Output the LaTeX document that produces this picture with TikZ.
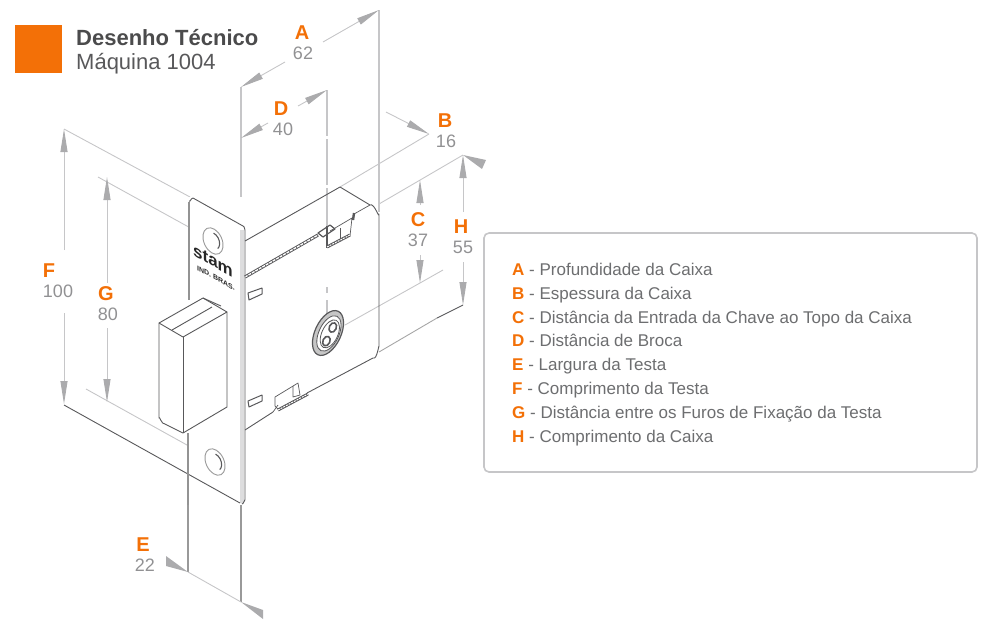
\documentclass[tikz,border=0pt]{standalone}
\usepackage{fontspec}
\setmainfont{Liberation Sans}
\usetikzlibrary{arrows.meta,calc}
\definecolor{marca}{HTML}{F37007}
\definecolor{cota}{HTML}{C6C6C8}
\definecolor{ponta}{HTML}{ABABAD}
\definecolor{traco}{HTML}{58585A}
\definecolor{legenda}{HTML}{6D6E70}

\begin{document}
\begin{tikzpicture}[
	x=1pt,y=-1pt,
	corpo/.style={draw=traco,line width=0.9pt,line join=round},
	fino/.style={corpo,line width=0.7pt},
	guia/.style={draw=cota,line width=0.9pt},
	prumo/.style={draw=cota,line width=1.8pt},
	seta/.style={draw=cota,line width=0.9pt,-{Triangle[length=23pt,width=7pt,color=ponta]}},
	letra/.style={font=\fontsize{20}{20}\selectfont\bfseries,text=marca,inner sep=0pt},
	valor/.style={font=\fontsize{18}{18}\selectfont,text=ponta!85!black,inner sep=0pt},
	item/.style={font=\fontsize{17}{17}\selectfont,text=legenda,anchor=base west,inner sep=0pt}
	]
	\useasboundingbox (0,0) rectangle (1000,633);

	% Titulo
	\fill[marca] (15,25) rectangle (62,73);
	\node[anchor=base west,inner sep=0pt,font=\fontsize{22}{22}\selectfont\bfseries,text=traco!85!black] (titulo) at (76,45) {Desenho Técnico};
	\node[anchor=base west,inner sep=0pt,font=\fontsize{22}{22}\selectfont,text=traco] (maquina) at (76,69) {Máquina 1004};

	% Pontos das cotas
	\coordinate (a1) at (241,87);
	\coordinate (a2) at (379,10);
	\coordinate (d1) at (241,138);
	\coordinate (d2) at (327,90);
	\coordinate (b1) at (429,134);
	\coordinate (b2) at (463,155);
	\coordinate (c1) at (420,180);
	\coordinate (c2) at (420,283);
	\coordinate (h2) at (463,305);
	\coordinate (f1) at (64,129);
	\coordinate (f2) at (64,404);
	\coordinate (g1) at (107,177);
	\coordinate (g2) at (107,402);
	\coordinate (e1) at (188,572);
	\coordinate (e2) at (241,602);

	% Guias de prolongamento
	\draw[prumo] (a1) -- (241,197);
	\draw[prumo] (a2) -- (379,212);
	\draw[prumo,dash pattern=on 46pt off 3pt] (d2) -- (327,248);
	\draw[prumo] (327,287) -- (327,293);
	\draw[prumo] (327,300) -- (327,314);
	\draw[guia] (b1) -- (340,187);
	\draw[guia] (b2) -- (379,204);
	\draw[guia] (443,270) -- (c2) -- (345,325);
	\draw[guia] (f1) -- (190,197);
	\draw[guia] (98,177) -- (205,236);
	\draw[guia] (86,389) -- (205,455);
	\draw[prumo,draw=gray!80] (188,505) -- (e1);
	\draw[prumo,draw=gray!80] (241,505) -- (e2);
	\draw[guia] (e1) -- (e2);

	% Cotas com seta
	\draw[seta] (285,62) -- (a1);
	\draw[seta] (323,42) -- (a2);
	\draw[seta] (268,123) -- (d1);
	\draw[seta] (298,106) -- (d2);
	\draw[seta] (386,112) -- (b1);
	\draw[seta] (420,205) -- (c1);
	\draw[seta] (420,255) -- (c2);
	\draw[seta] (463,212) -- (b2);
	\draw[seta] (463,262) -- (h2);
	\draw[seta] (64,250) -- (f1);
	\draw[seta] (64,313) -- (f2);
	\draw[seta] (107,283) -- (g1);
	\draw[seta] (107,328) -- (g2);
	% pontas externas
	\fill[ponta] (b2) -- (486,160) -- (482,169) -- cycle;
	\fill[ponta] (e1) -- (166,556) -- (166,566) -- cycle;
	\fill[ponta] (e2) -- (263,610) -- (263,619) -- cycle;

	% Caixa da maquina
	\draw[corpo] (245,241) -- (340,187) -- (370,205) to[out=30,in=-90] (379,214) -- (379,347) to[out=90,in=-30] (373,358) -- (307,393);
	\draw[corpo] (273,412) -- (245,430);
	\draw[draw=gray!70,line width=0.9pt] (379,352) -- (437,318);
	\draw[corpo] (437,318) -- (h2);

	% Rasgo superior, tracejado
	\draw[draw=traco,line width=3.2pt] (245,277) -- (318,235);
	\draw[draw=white,line width=1.3pt,dash pattern=on 3pt off 1pt] (245,277) -- (318,235);

	% Trinco superior
	\draw[corpo,line width=1.2pt] (318,233) -- (330,225) -- (335,229) -- (323,237) -- cycle;
	\draw[corpo,line width=1.4pt] (327,226) -- (327,248);
	\draw[fino] (330,231) -- (352,218) -- (350,236);
	\draw[fino] (340,228) -- (340,240);
	\draw[draw=traco,line width=3pt] (327,247) -- (350,235);
	\draw[draw=white,line width=1pt,dash pattern=on 2pt off 1pt] (327,247) -- (350,235);
	\draw[corpo,line width=2.4pt] (354,213) -- (353,220);
	\draw[fino] (354,214) -- (370,205);

	% Trinco inferior
	\draw[fino] (275,406) -- (275,397) -- (298,383) -- (300,395);
	\draw[fino] (293,386) -- (293,397) -- (300,395);
	\draw[fino] (275,406) -- (279,410);
	\draw[draw=traco,line width=3pt] (278,410) -- (308,394);
	\draw[draw=white,line width=1pt,dash pattern=on 2pt off 1pt] (278,410) -- (308,394);
	\draw[fino] (273,412) -- (278,405);

	% Rasgos
	\draw[corpo,line width=1pt] (248,293) -- (262,288) -- (262,294) -- (249,300) -- cycle;
	\draw[corpo,line width=1pt] (248,401) -- (262,395) -- (262,401) -- (249,407) -- cycle;

	% Testa
	\fill[white] (189,197) -- (243,227) -- (245,505) -- (189,470) -- cycle;
	\draw[draw=cota!60,line width=4pt] (242,230) -- (242,503);
	\draw[corpo] (64,405) -- (240,503);
	\draw[corpo,draw=gray!85,line width=1.4pt] (189,202) -- (189,300);
	\draw[corpo,draw=gray!85,line width=1.4pt] (188,433) -- (188,505);
	\draw[corpo] (189,201) to[out=-60,in=180] (193,198) -- (243,226) to[out=0,in=-90] (245,230) -- (245,500) to[out=90,in=0] (242,504);

	% Furos
	\begin{scope}[rotate around={25:(213,241)}]
		\draw[corpo,draw=gray!80] (213,241) ellipse[x radius=9,y radius=14];
		\draw[corpo,line width=1.1pt] (213,241) ++(-50:6 and 9) arc[start angle=-50,end angle=80,x radius=6,y radius=9];
	\end{scope}
	\begin{scope}[rotate around={25:(215,462)}]
		\draw[corpo,draw=gray!80] (215,462) ellipse[x radius=9,y radius=14];
		\draw[corpo,line width=1.1pt] (215,462) ++(-50:6 and 9) arc[start angle=-50,end angle=80,x radius=6,y radius=9];
	\end{scope}

	% Marca
	\node[transform shape,yslant=-0.55,font=\fontsize{17}{17}\selectfont\bfseries,text=black!85,inner sep=0pt] (marcatesta) at (213,261) {stam};
	\node[transform shape,yslant=-0.55,font=\fontsize{7}{7}\selectfont\bfseries,text=black!85,inner sep=0pt] (marcabaixo) at (216,278) {IND. BRAS.};

	% Lingueta
	\path[corpo,fill=white] (159,323) -- (203,298) -- (227,312) -- (227,407) -- (183,433) -- (165,424) to[out=200,in=90] (159,418) -- cycle;
	\draw[corpo] (159,323) -- (183,337) -- (227,312);
	\draw[corpo] (183,337) -- (183,433);
	\draw[corpo] (172,330) -- (212,307);
	\draw[corpo] (203,298) -- (221,306);

	% Entrada da chave
	\begin{scope}[rotate around={-25:(328,333)}]
		\draw[corpo,line width=1.2pt,fill=gray!45] (328,333) ellipse[x radius=13,y radius=24];
		\draw[corpo,line width=0.8pt,fill=white] (329,333) ellipse[x radius=10,y radius=19];
		\draw[corpo,line width=0.8pt] (330,333) ellipse[x radius=8,y radius=15];
		\draw[corpo,line width=1.6pt] (330,326) ellipse[x radius=3.5,y radius=5];
		\draw[corpo,line width=1.6pt] (330,341) ellipse[x radius=3.5,y radius=5];
	\end{scope}

	% Letras e valores
	\node[letra] (letraA) at (302,33) {A};
	\node[valor] (valorA) at (303,53) {62};
	\node[letra] (letraD) at (281,109) {D};
	\node[valor] (valorD) at (283,129) {40};
	\node[letra] (letraB) at (445,121) {B};
	\node[valor] (valorB) at (446,141) {16};
	\node[letra] (letraC) at (418,220) {C};
	\node[valor] (valorC) at (418,240) {37};
	\node[letra] (letraH) at (461,227) {H};
	\node[valor] (valorH) at (463,247) {55};
	\node[letra] (letraF) at (49,271) {F};
	\node[valor] (valorF) at (58,291) {100};
	\node[letra] (letraG) at (106,294) {G};
	\node[valor] (valorG) at (108,314) {80};
	\node[letra] (letraE) at (143,545) {E};
	\node[valor] (valorE) at (145,565) {22};

	% Legenda
	\draw[draw=cota,line width=1.6pt,rounded corners=5pt,fill=white] (484,233) rectangle (977,472);
	\foreach \y/\l/\t in {275/A/Profundidade da Caixa,
		299/B/Espessura da Caixa,
		323/C/Distância da Entrada da Chave ao Topo da Caixa,
		346/D/Distância de Broca,
		370/E/Largura da Testa,
		394/F/Comprimento da Testa,
		418/G/Distância entre os Furos de Fixação da Testa,
		442/H/Comprimento da Caixa}
		\node[item] (item\l) at (512,\y) {{\bfseries\color{marca}\l} - \t};
\end{tikzpicture}
\end{document}
